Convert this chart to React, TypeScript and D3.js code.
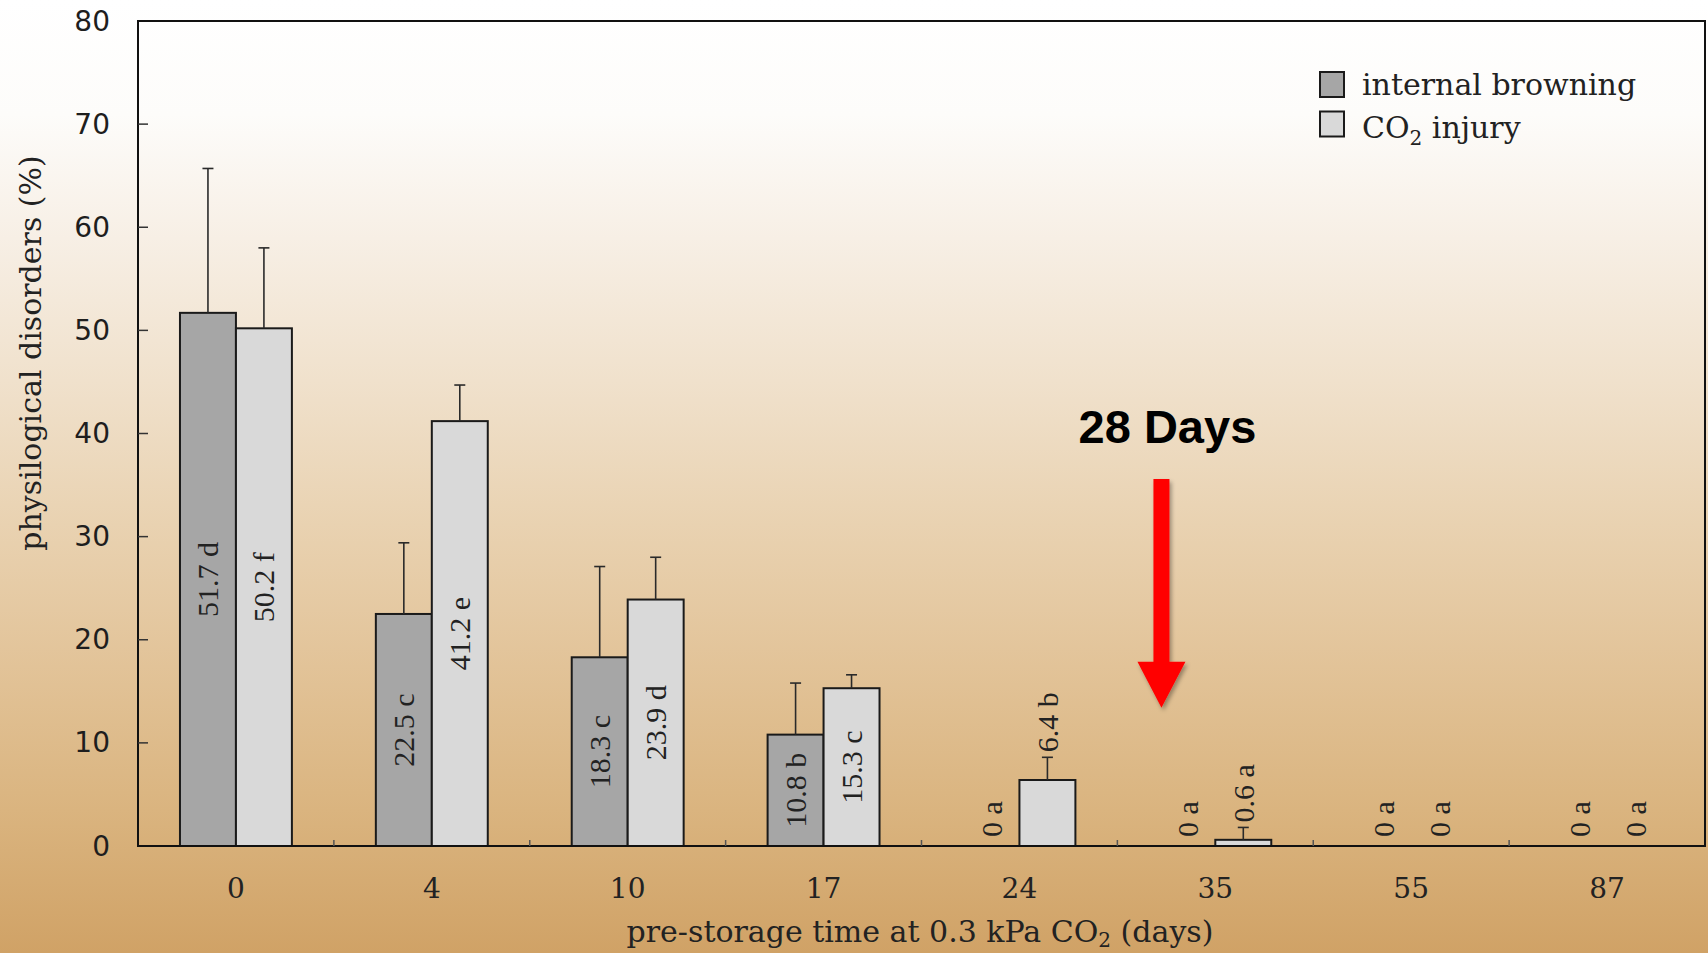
import React from 'react';
import * as d3 from 'd3';

// pre-storage days at 0.3 kPa CO2
const categories = ['0', '4', '10', '17', '24', '35', '55', '87'];

const browning = [51.7, 22.5, 18.3, 10.8, 0, 0, 0, 0];
const browningErr = [14.0, 6.9, 8.8, 5.0, 0, 0, 0, 0];
const browningLetters = ['d', 'c', 'c', 'b', 'a', 'a', 'a', 'a'];

const co2Injury = [50.2, 41.2, 23.9, 15.3, 6.4, 0.6, 0, 0];
const co2Err = [7.8, 3.5, 4.1, 1.3, 2.2, 1.2, 0, 0];
const co2Letters = ['f', 'e', 'd', 'c', 'b', 'a', 'a', 'a'];

const yTicks = [0, 10, 20, 30, 40, 50, 60, 70, 80];

const seriesKeys = ['browning', 'co2'];
const seriesNames = ['internal browning', 'CO2 injury'];

// annotation: arrow drawn in data space (between 24 and 35 days)
const arrowCategory = '35';
const arrowTop = 35.6;
const arrowTip = 13.4;

const W = 1708;
const H = 953;
const margin = { top: 21, right: 3, bottom: 107, left: 138 };

const SERIF = '"DejaVu Serif", serif';
const TIMES = '"Liberation Serif", "Times New Roman", serif';
const SANS = '"DejaVu Sans", sans-serif';

export default function App() {
  const x = d3.scaleBand<string>()
    .domain(categories)
    .range([margin.left, W - margin.right])
    .padding(0);

  const xSub = d3.scaleBand<string>()
    .domain(seriesKeys)
    .range([0, x.bandwidth()])
    .paddingInner(0)
    .paddingOuter(0.75);

  const y = d3.scaleLinear()
    .domain([0, 80])
    .range([H - margin.bottom, margin.top]);

  const y0 = y(0);
  const bw = xSub.bandwidth();

  const rows = categories.flatMap((c, i) => [
    { cat: c, key: 'browning', v: browning[i], err: browningErr[i], letter: browningLetters[i], fill: '#a6a6a6' },
    { cat: c, key: 'co2', v: co2Injury[i], err: co2Err[i], letter: co2Letters[i], fill: '#d9d9d9' },
  ]);

  const arrowX = (x(arrowCategory) as number) + x.bandwidth() * 0.225;

  return (
    <>
      <style>{`body{margin:0;overflow:hidden}`}</style>
      <svg width={W} height={H} style={{ display: 'block' }}>
        <defs>
          <linearGradient id="bg" x1="0" y1="0" x2="0" y2="1">
            <stop offset="0" stopColor="#ffffff" />
            <stop offset="0.12" stopColor="#fdfcfa" />
            <stop offset="0.25" stopColor="#f7efe5" />
            <stop offset="0.4" stopColor="#f0e1cc" />
            <stop offset="0.55" stopColor="#e9d2b1" />
            <stop offset="0.7" stopColor="#e2c398" />
            <stop offset="0.85" stopColor="#dab47f" />
            <stop offset="1" stopColor="#d0a266" />
          </linearGradient>
          <filter id="shadow" x="-50%" y="-20%" width="200%" height="140%">
            <feDropShadow dx="2" dy="3" stdDeviation="2" floodColor="#000" floodOpacity="0.35" />
          </filter>
        </defs>
        <rect x={0} y={0} width={W} height={H} fill="url(#bg)" />

        {/* bars */}
        {rows.map((r, i) => {
          if (r.v <= 0) return null;
          const bx = (x(r.cat) as number) + (xSub(r.key) as number);
          return (
            <rect key={'b' + i} x={bx} y={y(r.v)} width={bw} height={y0 - y(r.v)}
              fill={r.fill} stroke="#1a1a1a" strokeWidth={2} />
          );
        })}

        {/* error bars (upper only) */}
        {rows.map((r, i) => {
          if (r.err <= 0) return null;
          const cx = (x(r.cat) as number) + (xSub(r.key) as number) + bw / 2;
          const top = y(r.v + r.err);
          return (
            <g key={'e' + i} stroke="#2a2a2a" strokeWidth={1.6}>
              <line x1={cx} x2={cx} y1={y(r.v)} y2={top} />
              <line x1={cx - 5.5} x2={cx + 5.5} y1={top} y2={top} />
            </g>
          );
        })}

        {/* value labels */}
        {rows.map((r, i) => {
          const cx = (x(r.cat) as number) + (xSub(r.key) as number) + bw / 2;
          const label = `${r.v} ${r.letter}`;
          const inside = y0 - y(r.v) >= 90;
          if (inside) {
            const cy = (y(r.v) + y0) / 2;
            return (
              <text key={'l' + i} transform={`translate(${cx},${cy}) rotate(-90)`}
                textAnchor="middle" dominantBaseline="central"
                fontFamily={TIMES} fontSize={30} fill="#222">{label}</text>
            );
          }
          const start = r.v > 0 ? y(r.v + r.err) - 5 : y0 - 9;
          return (
            <text key={'l' + i} transform={`translate(${cx},${start}) rotate(-90)`}
              textAnchor="start" dominantBaseline="central"
              fontFamily={TIMES} fontSize={30} fill="#222">{label}</text>
          );
        })}

        {/* frame */}
        <rect x={margin.left} y={margin.top} width={W - margin.right - margin.left}
          height={y0 - margin.top} fill="none" stroke="#111" strokeWidth={2} />

        {/* y ticks */}
        {yTicks.map(t => (
          <g key={'yt' + t}>
            {t > 0 && t < 80 && (
              <line x1={margin.left} x2={margin.left + 10} y1={y(t)} y2={y(t)} stroke="#333" strokeWidth={1.5} />
            )}
            <text x={110} y={y(t)} textAnchor="end" dominantBaseline="central"
              fontFamily={SANS} fontSize={28} fill="#1e1e1e">{t}</text>
          </g>
        ))}

        {/* x ticks at category boundaries */}
        {categories.slice(1).map(c => (
          <line key={'xt' + c} x1={x(c)} x2={x(c)} y1={y0} y2={y0 - 6} stroke="#555" strokeWidth={1.5} />
        ))}
        {categories.map(c => (
          <text key={'xl' + c} x={(x(c) as number) + x.bandwidth() / 2} y={888}
            textAnchor="middle" dominantBaseline="central"
            fontFamily={SERIF} fontSize={28} fill="#222">{c}</text>
        ))}

        {/* axis titles */}
        <text transform={`translate(30,353) rotate(-90)`} textAnchor="middle" dominantBaseline="central"
          fontFamily={SERIF} fontSize={30} fill="#222">physilogical disorders (%)</text>
        <text x={920} y={942} textAnchor="middle" fontFamily={SERIF} fontSize={30} fill="#222">
          pre-storage time at 0.3 kPa CO<tspan fontSize={20} dy={5}>2</tspan><tspan dy={-5}> (days)</tspan>
        </text>

        {/* legend */}
        {seriesNames.map((name, i) => {
          const ly = 72 + i * 39.5;
          return (
            <g key={'lg' + i}>
              <rect x={1320} y={ly} width={24} height={25} fill={i === 0 ? '#a6a6a6' : '#d9d9d9'}
                stroke="#1a1a1a" strokeWidth={2} />
              <text x={1362} y={ly + 23 + i * 3} fontFamily={SERIF} fontSize={30} fill="#222">
                {i === 0 ? name : (<>CO<tspan fontSize={20} dy={7}>2</tspan><tspan dy={-7}> injury</tspan></>)}
              </text>
            </g>
          );
        })}

        {/* 28 days annotation */}
        <text x={arrowX + 6} y={443} textAnchor="middle" fontFamily='"Liberation Sans", Arial, sans-serif'
          fontWeight="bold" fontSize={47} fill="#000">28 Days</text>
        <path filter="url(#shadow)" fill="#ff0000"
          d={`M${arrowX - 8},${y(arrowTop)} L${arrowX + 8},${y(arrowTop)} L${arrowX + 8},${y(arrowTip) - 46}
              L${arrowX + 24},${y(arrowTip) - 46} L${arrowX},${y(arrowTip)} L${arrowX - 24},${y(arrowTip) - 46}
              L${arrowX - 8},${y(arrowTip) - 46} Z`} />
      </svg>
    </>
  );
}
